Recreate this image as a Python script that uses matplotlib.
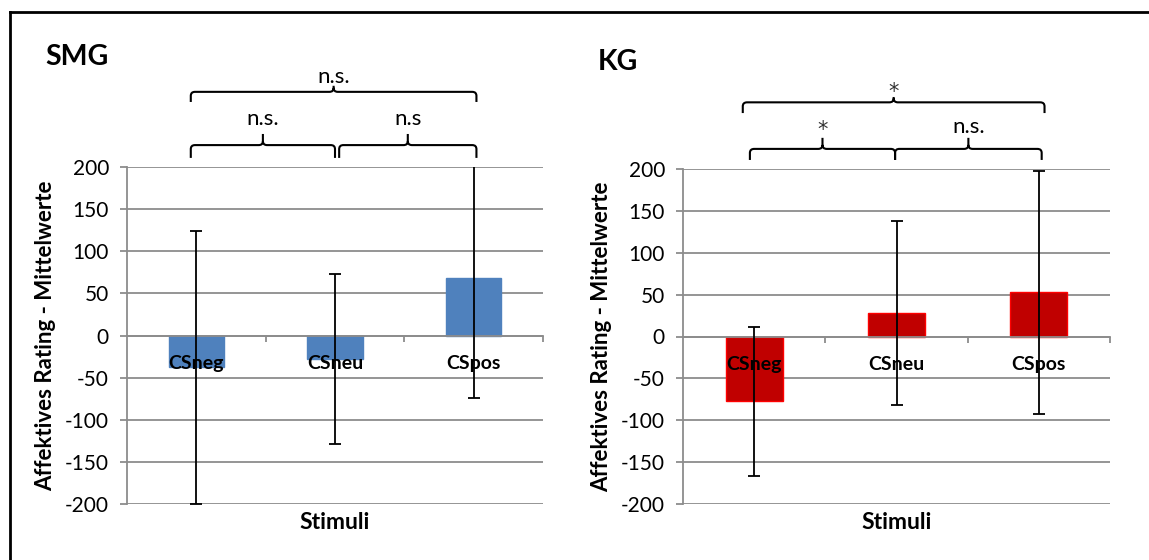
import numpy as np
import matplotlib
matplotlib.use('Agg')
import matplotlib.pyplot as plt
import matplotlib.transforms as mtransforms
from matplotlib.path import Path
from matplotlib.patches import PathPatch
from matplotlib.lines import Line2D

plt.rcParams['font.family'] = ['Lato', 'DejaVu Sans']
plt.rcParams['axes.unicode_minus'] = False

# ── Data ─────────────────────────────────────────────────────────────────
categories = ['CSneg', 'CSneu', 'CSpos']
smg_means = [-37.5, -28, 68]
smg_sd = [162, 101, 142]
kg_means = [-77.5, 28, 53]
kg_sd = [88.5, 110, 145]
y_ticks = [-200, -150, -100, -50, 0, 50, 100, 150, 200]

# significance brackets: (from category, to category, label)
smg_lower = [(0, 1, 'n.s.'), (1, 2, 'n.s')]
smg_upper = [(0, 2, 'n.s.')]
kg_lower = [(0, 1, '*'), (1, 2, 'n.s.')]
kg_upper = [(0, 2, '*')]

GRID = '#8C8C8C'
W, H = 1149, 560


def draw_brace(ax, x0, x1, y_line, y_hook, y_tip, label, y_text):
    # curly-ish bracket above the axes: x in data, y in axes fraction
    trans = mtransforms.blended_transform_factory(ax.transData, ax.transAxes)
    rx, ry = 0.03, 0.012
    xm = (x0 + x1) / 2
    verts = [(x0, y_hook), (x0, y_line - ry), (x0, y_line), (x0 + rx, y_line),
             (xm - rx, y_line), (xm, y_line), (xm, y_line + ry), (xm, y_tip),
             (xm, y_line + ry), (xm, y_line), (xm + rx, y_line),
             (x1 - rx, y_line), (x1, y_line), (x1, y_line - ry), (x1, y_hook)]
    codes = [Path.MOVETO, Path.LINETO, Path.CURVE3, Path.CURVE3,
             Path.LINETO, Path.CURVE3, Path.CURVE3, Path.LINETO,
             Path.MOVETO, Path.CURVE3, Path.CURVE3,
             Path.LINETO, Path.CURVE3, Path.CURVE3, Path.LINETO]
    ax.add_patch(PathPatch(Path(verts, codes), transform=trans, fill=False,
                           edgecolor='black', lw=1.5, clip_on=False,
                           capstyle='butt'))
    if label == '*':
        # asterisk glyph sits high, push it down a bit
        ax.text(xm, y_text - 0.022, label, transform=trans, ha='center',
                va='center', fontsize=15, family='DejaVu Sans', color='#333333',
                clip_on=False)
    else:
        ax.text(xm, y_text, label, transform=trans, ha='center', va='center',
                fontsize=16, clip_on=False)


def panel(ax, means, sd, face, edge):
    x = np.arange(len(categories))
    ax.set_xlim(-0.5, 2.5)
    ax.set_ylim(-200, 200)
    ax.set_yticks(y_ticks)
    ax.set_yticklabels([str(t) for t in y_ticks])
    ax.yaxis.grid(True, color=GRID, lw=1.3)
    ax.set_axisbelow(True)

    ax.bar(x, means, width=0.4, color=face, edgecolor=edge, lw=1.0, zorder=2)
    ax.errorbar(x, means, yerr=sd, fmt='none', ecolor='black', elinewidth=1.3,
                capsize=4.5, capthick=1.3, zorder=4)
    for i, c in enumerate(categories):
        ax.text(x[i], -33, c, ha='center', va='center', fontsize=14,
                fontweight='bold', zorder=3)

    for s in ['top', 'right']:
        ax.spines[s].set_visible(False)
    ax.spines['left'].set_color(GRID)
    ax.spines['left'].set_linewidth(1.3)
    ax.spines['bottom'].set_position(('data', 0))
    ax.spines['bottom'].set_color(GRID)
    ax.spines['bottom'].set_linewidth(1.3)
    ax.set_xticks([0.5, 1.5, 2.5])
    ax.set_xticklabels([])
    ax.tick_params(axis='x', direction='out', length=4.5, width=1.3, color=GRID)
    ax.tick_params(axis='y', direction='out', length=5, width=1.3, color=GRID,
                   labelsize=15, pad=8)
    ax.set_ylabel('Affektives Rating - Mittelwerte', fontsize=16,
                  fontweight='bold', labelpad=6)
    ax.text(0.5, -0.055, 'Stimuli', transform=ax.transAxes, ha='center',
            va='center', fontsize=16.5, fontweight='bold')


fig = plt.figure(figsize=(W / 100, H / 100), dpi=100)
ax1 = fig.add_axes([127 / W, 56 / H, 416 / W, 337 / H])
ax2 = fig.add_axes([683 / W, 56 / H, 427 / W, 335 / H])

panel(ax1, smg_means, smg_sd, '#4F81BD', '#4F81BD')
panel(ax2, kg_means, kg_sd, '#C00000', '#FF0000')

# brackets, SMG
lo = {(0, 1): (-0.04, 1.0), (1, 2): (1.03, 2.02)}
for i, j, lab in smg_lower:
    a, b = lo[(i, j)]
    draw_brace(ax1, a, b, 1.065, 1.027, 1.098, lab, 1.143)
for i, j, lab in smg_upper:
    draw_brace(ax1, -0.04, 2.02, 1.223, 1.193, 1.241, lab, 1.268)

# brackets, KG
lo = {(0, 1): (-0.03, 0.99), (1, 2): (0.99, 2.02)}
for i, j, lab in kg_lower:
    a, b = lo[(i, j)]
    draw_brace(ax2, a, b, 1.060, 1.027, 1.093, lab,
               1.137 if lab == '*' else 1.125)
for i, j, lab in kg_upper:
    draw_brace(ax2, -0.08, 2.04, 1.199, 1.167, 1.215, lab, 1.251)

# panel titles
fig.text(45 / W, 1 - 57 / H, 'SMG', fontsize=20.5, fontweight='bold', va='center')
fig.text(598 / W, 1 - 62 / H, 'KG', fontsize=20.5, fontweight='bold', va='center')

# partial frame (left + top edge)
fig.add_artist(Line2D([10 / W, 10 / W], [0, 1 - 12 / H], transform=fig.transFigure,
                      color='black', lw=2))
fig.add_artist(Line2D([10 / W, 1], [1 - 12 / H, 1 - 12 / H], transform=fig.transFigure,
                      color='black', lw=2))

fig.savefig('out.png', dpi=100, facecolor='white')
